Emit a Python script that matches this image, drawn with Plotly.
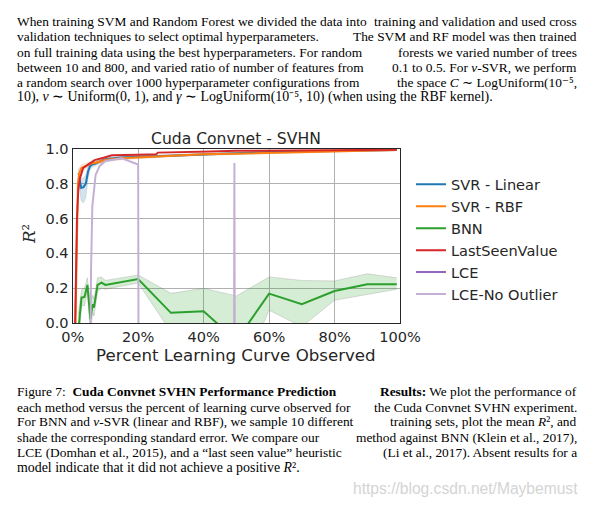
import plotly.graph_objects as go

# ---------------- data ----------------
svr_lin_x = [1.8, 2.2, 2.6, 3.3, 4.0, 4.7, 5.3, 6.0, 7.0, 8.0, 10, 15, 20, 30, 40, 50, 60, 70, 80, 90, 99]
svr_lin_y = [0.86, 0.82, 0.775, 0.78, 0.80, 0.87, 0.90, 0.91, 0.915, 0.925, 0.94, 0.95, 0.955, 0.96, 0.968, 0.975, 0.982, 0.985, 0.988, 0.99, 0.993]
svr_lin_lo = [0.82, 0.74, 0.70, 0.69, 0.72, 0.83, 0.88, 0.895, 0.905, 0.915, 0.93, 0.943, 0.949, 0.955, 0.963, 0.97, 0.978, 0.981, 0.985, 0.987, 0.99]
svr_lin_hi = [0.89, 0.86, 0.83, 0.83, 0.85, 0.90, 0.92, 0.925, 0.925, 0.935, 0.95, 0.957, 0.961, 0.965, 0.973, 0.98, 0.986, 0.989, 0.991, 0.993, 0.996]

svr_rbf_x = [0.8, 1.2, 1.6, 2.0, 2.7, 4.0, 5.3, 7.0, 10, 15, 20, 30, 40, 50, 60, 70, 80, 90, 99]
svr_rbf_y = [-0.05, 0.50, 0.80, 0.86, 0.89, 0.90, 0.915, 0.92, 0.935, 0.945, 0.95, 0.96, 0.968, 0.972, 0.976, 0.98, 0.985, 0.99, 0.993]
svr_rbf_lo = [-0.1, 0.45, 0.76, 0.83, 0.87, 0.885, 0.905, 0.91, 0.925, 0.937, 0.943, 0.954, 0.962, 0.967, 0.972, 0.976, 0.981, 0.986, 0.99]
svr_rbf_hi = [0.0, 0.55, 0.84, 0.89, 0.91, 0.915, 0.925, 0.93, 0.945, 0.953, 0.957, 0.966, 0.974, 0.977, 0.98, 0.984, 0.989, 0.994, 0.996]

bnn_x = [1.7, 2.7, 3.6, 4.5, 5.4, 6.1, 6.5, 7.6, 8.8, 10, 20, 30, 40, 50, 60, 70, 80, 90, 99]
bnn_y = [-0.05, 0.146, 0.15, 0.219, 0.023, 0.109, 0.089, 0.219, 0.232, 0.219, 0.253, 0.059, 0.068, -0.10, 0.169, 0.108, 0.184, 0.223, 0.223]
bnn_hi = [0.05, 0.19, 0.20, 0.26, 0.12, 0.16, 0.14, 0.26, 0.265, 0.245, 0.276, 0.171, 0.20, 0.156, 0.265, 0.245, 0.242, 0.283, 0.26]
bnn_lo = [-0.15, 0.10, 0.10, 0.18, -0.07, 0.06, 0.04, 0.18, 0.20, 0.195, 0.23, -0.05, -0.07, -0.36, 0.074, -0.02, 0.131, 0.166, 0.194]

lsv_x = [0.7, 1.0, 1.3, 1.7, 2.2, 3.2, 4.7, 6.7, 9.7, 12, 20, 25.5, 26, 35, 42, 50, 60, 70, 80, 90, 99]
lsv_y = [-0.05, 0.30, 0.60, 0.76, 0.83, 0.89, 0.91, 0.935, 0.95, 0.963, 0.966, 0.968, 0.978, 0.98, 0.985, 0.988, 0.99, 0.992, 0.993, 0.994, 0.995]

# LCE never reaches a positive R^2 (absent from the plot, legend only)
lce_x = [None]
lce_y = [None]

lce_no_x = [5.3, 5.6, 6.0, 7.0, 8.2, 10, 15, 20, 20.2, 49.2, 49.4, 49.6]
lce_no_y = [-0.5, 0.30, 0.67, 0.85, 0.90, 0.93, 0.945, 0.91, -1.0, -1.0, 0.918, -1.0]

x_ticks = [0, 20, 40, 60, 80, 100]
x_tick_text = ["0%", "20%", "40%", "60%", "80%", "100%"]
y_ticks = [0.0, 0.2, 0.4, 0.6, 0.8, 1.0]

# "|" marks where a justified line is split (left half / right half)
para_lines = [
    "When training SVM and Random Forest we divided the data into|training and validation and used cross",
    "validation techniques to select optimal hyperparameters.|The SVM and RF model was then trained",
    "on full training data using the best hyperparameters. For random|forests we varied number of trees",
    "between 10 and 800, and varied ratio of number of features from|0.1 to 0.5. For <i>ν</i>-SVR, we perform",
    "a random search over 1000 hyperparameter configurations from|the space <i>C</i> ∼ LogUniform(10⁻⁵,",
    "10), <i>ν</i> ∼ Uniform(0, 1), and <i>γ</i> ∼ LogUniform(10⁻⁵, 10) (when using the RBF kernel).",
]
caption_lines = [
    "Figure 7:  <b>Cuda Convnet SVHN Performance Prediction</b>|<b>Results:</b> We plot the performance of",
    "each method versus the percent of learning curve observed for|the Cuda Convnet SVHN experiment.",
    "For BNN and <i>ν</i>-SVR (linear and RBF), we sample 10 different|training sets, plot the mean <i>R</i>², and",
    "shade the corresponding standard error. We compare our|method against BNN (Klein et al., 2017),",
    "LCE (Domhan et al., 2015), and a “last seen value” heuristic|(Li et al., 2017). Absent results for a",
    "model indicate that it did not achieve a positive <i>R</i>².",
]

# ---------------- figure ----------------
W, H = 602, 506
# observed photo mapping: photo_x = 0.95*page_x + 10, photo_y = 0.97*page_y + 7
AX, BX, AY, BY = 0.95, 10.0, 0.97, 7.0
FSC = 1.04   # font compensation for the photo shrink

def px(x):
    return min(max((x - BX) / AX, 0), W - 1) / W

def py(y):
    return (H - (y - BY) / AY) / H

BLUE, ORANGE, GREEN, RED, PURPLE, LPURPLE = "#1f77b4", "#ff7f0e", "#2ca02c", "#d62728", "#9467bd", "#c5b0d5"

fig = go.Figure()

def band(x, lo, hi, fillcol, edgecol):
    fig.add_trace(go.Scatter(x=x, y=lo, mode="lines", line=dict(width=0.8, color=edgecol),
                             showlegend=False, hoverinfo="skip"))
    fig.add_trace(go.Scatter(x=x, y=hi, mode="lines", line=dict(width=0.8, color=edgecol),
                             fill="tonexty", fillcolor=fillcol, showlegend=False, hoverinfo="skip"))

band(svr_lin_x, svr_lin_lo, svr_lin_hi, "rgba(31,119,180,0.2)", "rgba(120,120,120,0.25)")
fig.add_trace(go.Scatter(x=svr_lin_x, y=svr_lin_y, mode="lines", name="SVR - Linear", line=dict(color=BLUE, width=2)))
band(svr_rbf_x, svr_rbf_lo, svr_rbf_hi, "rgba(255,127,14,0.2)", "rgba(120,120,120,0.15)")
fig.add_trace(go.Scatter(x=svr_rbf_x, y=svr_rbf_y, mode="lines", name="SVR - RBF", line=dict(color=ORANGE, width=2)))
band(bnn_x, bnn_lo, bnn_hi, "rgba(44,160,44,0.2)", "rgba(120,120,120,0.3)")
fig.add_trace(go.Scatter(x=bnn_x, y=bnn_y, mode="lines", name="BNN", line=dict(color=GREEN, width=2)))
fig.add_trace(go.Scatter(x=lsv_x, y=lsv_y, mode="lines", name="LastSeenValue", line=dict(color=RED, width=2)))
fig.add_trace(go.Scatter(x=lce_x, y=lce_y, mode="lines", name="LCE", line=dict(color=PURPLE, width=2)))
fig.add_trace(go.Scatter(x=lce_no_x, y=lce_no_y, mode="lines", name="LCE-No Outlier", line=dict(color=LPURPLE, width=2)))

TXT = "#262626"
axis_common = dict(showgrid=True, gridcolor="#b0b0b0", gridwidth=1, zeroline=False,
                   showline=True, linecolor="#262626", linewidth=1.3, mirror=True, ticks="",
                   tickfont=dict(family="DejaVu Sans", size=14 * FSC, color=TXT))

fig.update_layout(
    width=W, height=H, margin=dict(l=0, r=0, t=0, b=0),
    paper_bgcolor="white", plot_bgcolor="white",
    xaxis=dict(domain=[px(71), px(400)], range=[0, 100], tickmode="array", tickvals=x_ticks,
               ticktext=x_tick_text, **axis_common),
    yaxis=dict(domain=[py(322.3), py(147.3)], range=[0, 1], tickvals=y_ticks, tickformat=".1f", **axis_common),
    showlegend=True,
    legend=dict(x=px(411), y=py(167), xanchor="left", yanchor="top", traceorder="normal",
                font=dict(family="DejaVu Sans", size=14 * FSC, color=TXT), bgcolor="rgba(0,0,0,0)",
                tracegroupgap=0, itemwidth=30),
)

ann = []
def txt(t, x, y, size, family, color, xanchor="left", **kw):
    ann.append(dict(text=t, x=px(x), y=py(y), xref="paper", yref="paper", showarrow=False,
                    xanchor=xanchor, yanchor="middle", font=dict(family=family, size=size, color=color), **kw))

txt("Cuda Convnet - SVHN", 235, 137, 15 * FSC, "DejaVu Sans", TXT, "center")
txt("Percent Learning Curve Observed", 235, 355, 16 * FSC, "DejaVu Sans", TXT, "center")
txt("<i>R</i>²", 27, 233, 16 * FSC, "DejaVu Serif", TXT, "center", textangle=-90)

LEFT, RIGHT = 13, 580
def block(lines, ys):
    for t, yy in zip(lines, ys):
        if "|" in t:
            a, b = t.split("|")
            txt(a, LEFT, yy, 13.4, "Liberation Serif", "black", "left")
            txt(b, RIGHT, yy, 13.4, "Liberation Serif", "black", "right")
        else:
            txt(t, LEFT, yy, 13.9, "Liberation Serif", "black", "left")

block(para_lines, [19.5, 35, 50.2, 65.4, 80.6, 95.8])
block(caption_lines, [391, 406.5, 421.5, 437, 452, 467])
txt("https://blog.csdn.net/Maybemust", 600, 488, 15 * FSC, "Liberation Sans", "#d4d4d4", "right")

fig.update_layout(annotations=ann)
fig.write_html("out.html", config={"displayModeBar": False},
               post_script="document.body.style.margin='0';document.body.style.overflow='hidden';"
                           "document.documentElement.style.overflow='hidden';")
